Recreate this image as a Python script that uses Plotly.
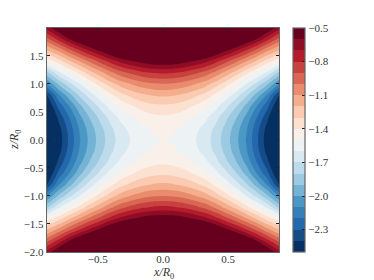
import plotly.graph_objects as go

# Values, upper-right quadrant (the chart is mirror-symmetric)
x_half = [0.0, 0.08, 0.16, 0.24, 0.32, 0.40, 0.48, 0.56, 0.64, 0.72, 0.80, 0.89]
z_half = [0.0, 0.2, 0.4, 0.6, 0.8, 1.0, 1.2, 1.4, 1.6, 1.8, 2.0]
phi_row_00 = [-1.50, -1.51, -1.54, -1.59, -1.65, -1.74, -1.85, -1.97, -2.11, -2.28, -2.46, -2.70]
phi_row_02 = [-1.48, -1.49, -1.52, -1.57, -1.63, -1.72, -1.83, -1.95, -2.09, -2.26, -2.44, -2.68]
phi_row_04 = [-1.42, -1.43, -1.46, -1.51, -1.57, -1.66, -1.77, -1.89, -2.03, -2.20, -2.37, -2.62]
phi_row_06 = [-1.32, -1.33, -1.36, -1.41, -1.47, -1.56, -1.67, -1.79, -1.93, -2.10, -2.27, -2.52]
phi_row_08 = [-1.18, -1.19, -1.22, -1.27, -1.33, -1.42, -1.53, -1.65, -1.78, -1.94, -2.11, -2.40]
phi_row_10 = [-1.00, -1.01, -1.04, -1.09, -1.15, -1.24, -1.35, -1.47, -1.60, -1.73, -1.88, -2.10]
phi_row_12 = [-0.78, -0.79, -0.82, -0.87, -0.93, -1.02, -1.13, -1.24, -1.37, -1.49, -1.62, -1.82]
phi_row_14 = [-0.52, -0.53, -0.56, -0.61, -0.67, -0.76, -0.87, -0.98, -1.10, -1.22, -1.35, -1.48]
phi_row_16 = [-0.22, -0.23, -0.26, -0.31, -0.37, -0.46, -0.57, -0.68, -0.80, -0.93, -1.07, -1.20]
phi_row_18 = [0.12, 0.11, 0.08, 0.03, -0.03, -0.12, -0.23, -0.35, -0.47, -0.60, -0.76, -0.93]
phi_row_20 = [0.50, 0.49, 0.46, 0.41, 0.35, 0.26, 0.15, 0.03, -0.11, -0.28, -0.48, -0.66]
rows_half = [phi_row_00, phi_row_02, phi_row_04, phi_row_06, phi_row_08, phi_row_10,
             phi_row_12, phi_row_14, phi_row_16, phi_row_18, phi_row_20]
cbar_ticks = [-0.5, -0.8, -1.1, -1.4, -1.7, -2.0, -2.3]
x_ticks = [-0.5, 0.0, 0.5]
z_ticks = [-2.0, -1.5, -1.0, -0.5, 0.0, 0.5, 1.0, 1.5]
level_start, level_end, level_step = -2.5, -0.5, 0.1

anchors = ["#053061", "#2166ac", "#4393c3", "#92c5de", "#d1e5f0", "#f7f7f7",
           "#fddbc7", "#f4a582", "#d6604d", "#b2182b", "#67001f"]
def sample(t):
    p = t * (len(anchors) - 1)
    i = min(int(p), len(anchors) - 2)
    f = p - i
    a = [int(anchors[i][k:k + 2], 16) for k in (1, 3, 5)]
    b = [int(anchors[i + 1][k:k + 2], 16) for k in (1, 3, 5)]
    return "rgb(%d,%d,%d)" % tuple(round(u + (v - u) * f) for u, v in zip(a, b))

n_bands = 20
scale = []
for i in range(n_bands):
    c = sample(i / (n_bands - 1))
    scale += [[i / n_bands, c], [(i + 1) / n_bands, c]]

x_full = [-v for v in reversed(x_half[1:])] + x_half
z_full = [-v for v in reversed(z_half[1:])] + z_half
rows_full = list(reversed(rows_half[1:])) + rows_half
phi = [list(reversed(r[1:])) + r for r in rows_full]

FONT = "Liberation Serif"
W, H = 366, 272   # the page body adds an 8 px offset
fig = go.Figure(go.Contour(
    x=x_full, y=z_full, z=phi,
    zmin=level_start, zmax=level_end, colorscale=scale,
    autocontour=False,
    contours=dict(start=level_start, end=level_end, size=level_step, coloring="fill", showlines=False),
    line=dict(width=0, smoothing=0.8),
    colorbar=dict(
        x=285 / W, xref="container", xanchor="left", y=0.5, yanchor="middle", len=1, lenmode="fraction",
        thickness=11.5, thicknessmode="pixels", outlinecolor="#666", outlinewidth=1.2,
        tickmode="array", tickvals=cbar_ticks, ticktext=["\u2212%.1f" % abs(v) for v in cbar_ticks],
        ticks="inside", ticklen=3, tickcolor="#222", tickwidth=0.8,
        tickfont=dict(family=FONT, size=11, color="#333"), xpad=0, ypad=0,
    ),
))
axis = dict(ticks="inside", ticklen=3, tickwidth=0.8, tickcolor="#222", showline=True, linecolor="#666",
            linewidth=1.4, mirror="allticks", showgrid=False, zeroline=False, automargin=False,
            tickfont=dict(family=FONT, size=11, color="#333"), tickformat=".1f")
title_font = dict(family=FONT, size=12, color="#333")
fig.update_layout(
    width=W, height=H, autosize=False, paper_bgcolor="white", plot_bgcolor="white",
    margin=dict(l=39, r=95, t=20, b=28, pad=0),
    xaxis=dict(axis, range=[-0.89, 0.89], tickmode="array", tickvals=x_ticks, ticklabelstandoff=-3),
    yaxis=dict(axis, range=[-2.0, 1.995], tickmode="array", tickvals=z_ticks),
    annotations=[
        dict(text="<i>x/R</i><sub>0</sub>", xref="paper", yref="paper", x=0.5, y=0, yshift=-21,
             yanchor="middle", showarrow=False, font=title_font),
        dict(text="<i>z/R</i><sub>0</sub>", xref="paper", yref="paper", x=0, y=0.5, xshift=-32,
             xanchor="center", yanchor="middle", textangle=-90, showarrow=False, font=title_font),
    ],
)
fig.write_html("out.html")
